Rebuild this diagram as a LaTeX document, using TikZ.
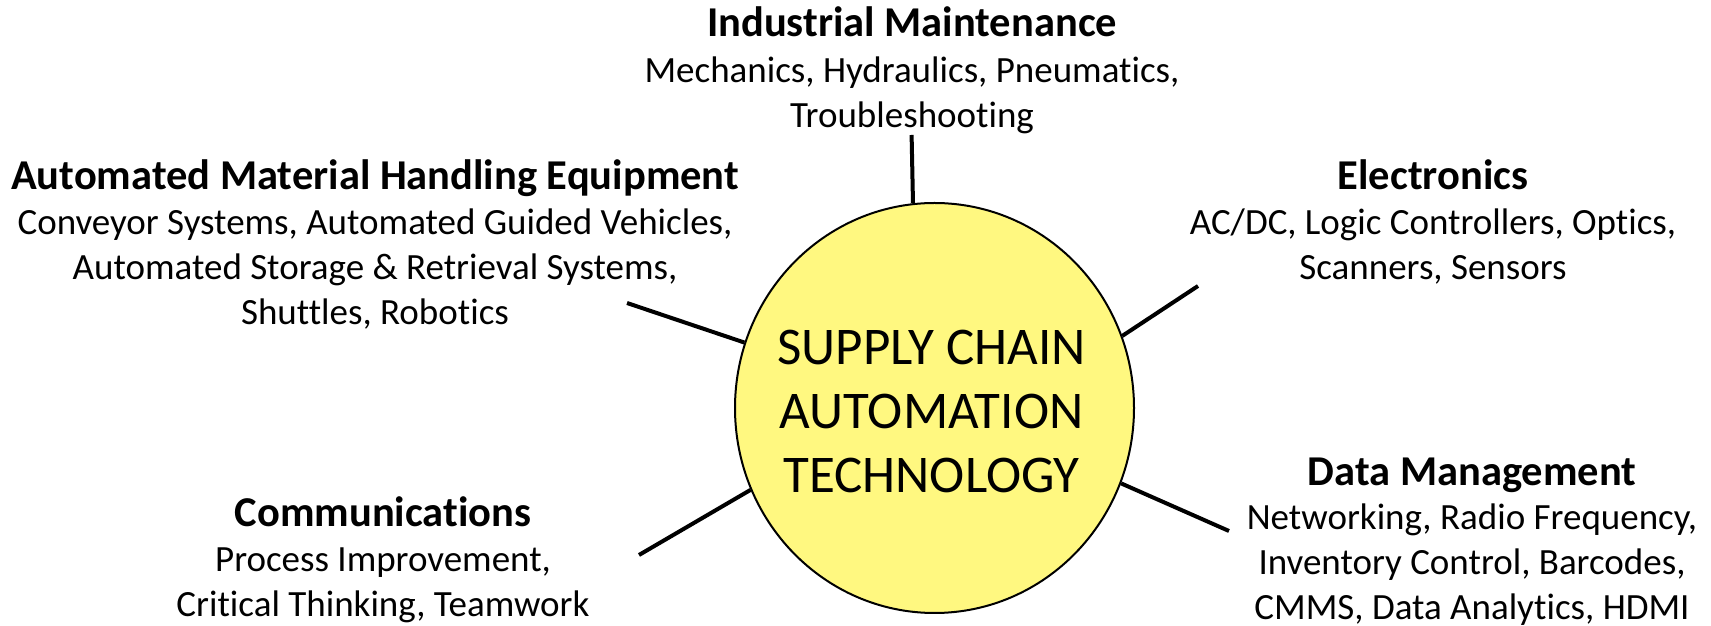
\documentclass[tikz,border=0pt]{standalone}
\usepackage{fontspec}
\setmainfont{Carlito}[Ligatures=NoCommon]
\usetikzlibrary{shapes.geometric}
\definecolor{hubfill}{RGB}{255,248,128}
\begin{document}
\begin{tikzpicture}[x=1pt,y=1pt,
  hub/.style={ellipse,draw=black,line width=2pt,fill=hubfill,minimum width=399pt,minimum height=410pt,inner sep=0pt},
  spoke/.style={line width=4pt},
  head/.style={font=\fontsize{42.5}{45}\selectfont\bfseries,anchor=base,inner sep=0pt},
  body/.style={font=\fontsize{37}{45}\selectfont,anchor=base,align=center,inner sep=0pt},
  hubtext/.style={font=\fontsize{53}{64}\selectfont,anchor=base,align=center,inner sep=0pt}]
\useasboundingbox (0,0) rectangle (1711,626);
\node[hub] (c) at (934.5,218) {};
\node[hubtext] (ct) at (931.5,133) {SUPPLY CHAIN\\AUTOMATION\\TECHNOLOGY};

\node[head] (imh) at (912,589) {Industrial Maintenance};
\node[body] (imb) at (912,498) {Mechanics, Hydraulics, Pneumatics,\\Troubleshooting};

\node[head] (amh) at (375,436) {Automated Material Handling Equipment};
\node[body] (amb) at (375,301) {Conveyor Systems, Automated Guided Vehicles,\\Automated Storage \& Retrieval Systems,\\Shuttles, Robotics};

\node[head] (elh) at (1433,436) {Electronics};
\node[body] (elb) at (1433,346) {AC/DC, Logic Controllers, Optics,\\Scanners, Sensors};

\node[head] (coh) at (383,99) {Communications};
\node[body] (cob) at (383,9) {Process Improvement,\\Critical Thinking, Teamwork};

\node[head] (dmh) at (1472,140) {Data Management};
\node[body] (dmb) at (1472,6) {Networking, Radio Frequency,\\Inventory Control, Barcodes,\\CMMS, Data Analytics, HDMI};

\coordinate (ptop) at (911.6,491);
\coordinate (pul) at (627,323);
\coordinate (pur) at (1198,340);
\coordinate (pll) at (639,71);
\coordinate (plr) at (1229,95);

\draw[spoke] (ptop) -- (c.96);
\draw[spoke] (pul) -- (c.161.2);
\draw[spoke] (pur) -- (c.21);
\draw[spoke] (pll) -- (c.204.6);
\draw[spoke] (plr) -- (c.338.6);
\end{tikzpicture}
\end{document}
